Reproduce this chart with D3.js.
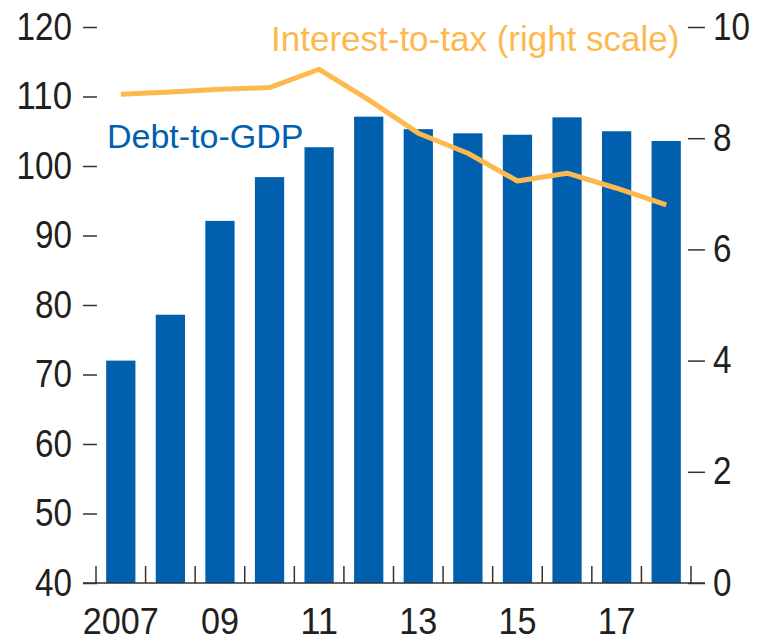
<!DOCTYPE html>
<html lang="en">
<head>
    <meta charset="UTF-8">
    <title>Debt-to-GDP and Interest-to-tax</title>
    <script src="https://d3js.org/d3.v7.min.js"></script>
    <style>
        body { margin: 0; background: #fff; }
        text { font-family: "Liberation Sans", Arial, sans-serif; fill: #231f20; }
    </style>
</head>
<body>
    <svg width="758" height="643"></svg>

    <script>
        // podaci
        const years = ["2007", "2008", "2009", "2010", "2011", "2012", "2013", "2014", "2015", "2016", "2017", "2018"];
        const debtToGdp = [72.0, 78.6, 92.1, 98.4, 102.7, 107.1, 105.3, 104.7, 104.5, 107.0, 105.0, 103.6];
        const interestToTax = [8.79, 8.83, 8.88, 8.91, 9.24, 8.69, 8.09, 7.73, 7.23, 7.37, 7.10, 6.80];
        const xLabels = { "2007": "2007", "2009": "09", "2011": "11", "2013": "13", "2015": "15", "2017": "17" };
        const leftTicks = [40, 50, 60, 70, 80, 90, 100, 110, 120];
        const rightTicks = [0, 2, 4, 6, 8, 10];

        const plotLeft = 96, plotRight = 691, plotTop = 27, plotBottom = 583;
        const digitW = 18.5; // uski font brojeva
        const svg = d3.select("svg");

        const x = d3.scaleBand()
            .domain(years)
            .range([plotLeft, plotRight])
            .paddingInner(0.41)
            .paddingOuter(0.205);

        const yL = d3.scaleLinear().domain([40, 120]).range([plotBottom, plotTop]);
        const yR = d3.scaleLinear().domain([0, 10]).range([plotBottom, plotTop]);

        // stupci
        svg.append("g")
            .selectAll("rect")
            .data(years)
            .join("rect")
            .attr("x", d => x(d))
            .attr("width", x.bandwidth())
            .attr("y", (d, i) => yL(debtToGdp[i]))
            .attr("height", (d, i) => plotBottom - yL(debtToGdp[i]))
            .attr("fill", "#0060ae");

        // linija
        const line = d3.line()
            .x(d => x(d[0]) + x.bandwidth() / 2)
            .y(d => yR(d[1]));

        svg.append("path")
            .datum(years.map((y, i) => [y, interestToTax[i]]))
            .attr("d", line)
            .attr("fill", "none")
            .attr("stroke", "#fdb94d")
            .attr("stroke-width", 5)
            .attr("stroke-linejoin", "round");

        // lijeva os
        const axL = svg.append("g")
            .attr("transform", "translate(97,0)")
            .call(d3.axisLeft(yL).tickValues(leftTicks).tickSize(14).tickPadding(11));
        axL.select(".domain").remove();
        axL.selectAll("line").attr("stroke", "#333").attr("stroke-width", 1.5);
        axL.selectAll("text").attr("font-size", 38).attr("fill", "#231f20")
            .attr("font-family", null)
            .attr("textLength", d => String(d).length * digitW)
            .attr("lengthAdjust", "spacingAndGlyphs");

        // desna os
        const axR = svg.append("g")
            .attr("transform", "translate(688,0)")
            .call(d3.axisRight(yR).tickValues(rightTicks).tickSize(17).tickPadding(8));
        axR.select(".domain").remove();
        axR.selectAll("line").attr("stroke", "#333").attr("stroke-width", 1.5);
        axR.selectAll("text").attr("font-size", 38).attr("fill", "#231f20")
            .attr("font-family", null)
            .attr("textLength", d => String(d).length * digitW)
            .attr("lengthAdjust", "spacingAndGlyphs");

        // x os
        const step = x.step();
        const tickXs = years.map(d => x(d) + x.bandwidth() / 2 - step / 2).concat([plotRight]);
        svg.append("line")
            .attr("x1", 83).attr("x2", 705)
            .attr("y1", plotBottom).attr("y2", plotBottom)
            .attr("stroke", "#333").attr("stroke-width", 1.5);
        svg.append("g")
            .selectAll("line")
            .data(tickXs)
            .join("line")
            .attr("x1", d => d).attr("x2", d => d)
            .attr("y1", plotBottom).attr("y2", plotBottom - 17)
            .attr("stroke", "#333").attr("stroke-width", 1.5);
        svg.append("g")
            .selectAll("text")
            .data(years.filter(d => xLabels[d]))
            .join("text")
            .attr("x", d => x(d) + x.bandwidth() / 2)
            .attr("y", 634)
            .attr("text-anchor", "middle")
            .attr("font-size", 37)
            .attr("textLength", d => xLabels[d].length * 19)
            .attr("lengthAdjust", "spacingAndGlyphs")
            .text(d => xLabels[d]);

        // natpisi
        svg.append("text")
            .attr("x", 271)
            .attr("y", 51)
            .attr("font-size", 35)
            .style("fill", "#fdb94d")
            .text("Interest-to-tax (right scale)");

        svg.append("text")
            .attr("x", 107)
            .attr("y", 148)
            .attr("font-size", 34)
            .style("fill", "#0060ae")
            .text("Debt-to-GDP");
    </script>
</body>
</html>
